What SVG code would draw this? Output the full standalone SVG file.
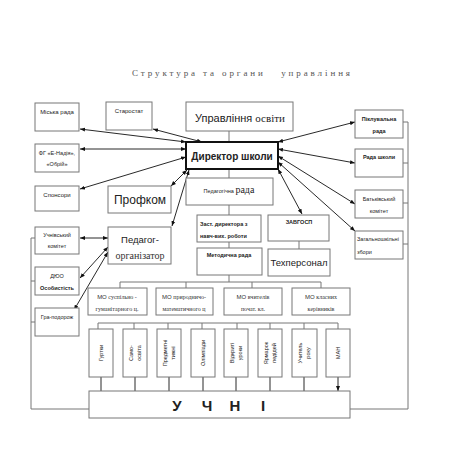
<svg xmlns="http://www.w3.org/2000/svg" width="453" height="453" viewBox="0 0 453 453">
<defs>
<marker id="ah" viewBox="0 0 10 10" refX="10" refY="5" markerWidth="5" markerHeight="5" orient="auto-start-reverse" markerUnits="userSpaceOnUse"><path d="M0,1 L10,5 L0,9 z" fill="#111"/></marker>
<style>
.b{fill:#fff;stroke:#777;stroke-width:1}
.t{font-family:"Liberation Sans",Arial,sans-serif;fill:#222;text-anchor:middle}
.s{font-family:"Liberation Serif","Times New Roman",serif;fill:#333;text-anchor:middle}
.c{fill:none;stroke:#777;stroke-width:1}
.a{fill:none;stroke:#111;stroke-width:0.9;marker-start:url(#ah);marker-end:url(#ah)}
.d{fill:none;stroke:#111;stroke-width:0.9;marker-end:url(#ah)}
</style>
</defs>
<rect width="453" height="453" fill="#fff"/>
<text x="132" y="76" font-family="Liberation Serif,serif" font-size="9" textLength="218" lengthAdjust="spacing" fill="#555" style="white-space:pre">Структура та органи   управління</text>

<g id="connectors">
<path class="c" d="M229,131V142 M229,169V178 M229,205V215 M229,242V248 M229,275V282 M120,282H321 M120,282V288 M186,282V288 M252,282V288 M321,282V288 M299,241V249"/>
<path class="c" d="M98,323H338 M98,323V329 M134,323V329 M168,323V329 M202,323V329 M237,323V329 M270,323V329 M304,323V329 M338,323V329"/>
<path class="d" d="M101,377V391 M135,377V391 M169,377V391 M203,377V391 M236,377V391 M270,377V391 M304,377V391 M338,377V391"/>
<path class="c" d="M35,238H31V409H89 M35,281H31 M35,322H31"/>
<path class="c" d="M403,122H408V409H350 M403,163H408 M403,203H408 M403,244H408"/>
<path class="a" d="M80,129L186,142"/>
<path class="a" d="M153,129L202,142"/>
<path class="a" d="M80,149H186"/>
<path class="a" d="M80,189L186,157"/>
<path class="a" d="M171,186L187,170"/>
<path class="a" d="M172,226L189,170"/>
<path class="a" d="M80,238H108"/>
<path class="a" d="M80,278L108,247"/>
<path class="a" d="M74,310L108,252"/>
<path class="a" d="M278,142L355,122"/>
<path class="a" d="M278,149L355,163"/>
<path class="a" d="M278,156L355,204"/>
<path class="a" d="M278,162L355,231"/>
<path class="a" d="M278,169L302,214"/>
</g>

<g id="miska"><rect class="b" x="35" y="103" width="44" height="28"/><text class="t" x="57" y="114" font-size="6">Міська рада</text></g>
<g id="starostat"><rect class="b" x="106" y="102" width="46" height="28"/><text class="t" x="129" y="113" font-size="6">Старостат</text></g>
<g id="fg"><rect class="b" x="35" y="144" width="44" height="28"/><text class="t" x="57" y="155" font-size="5.5">ФГ «Е-Надія»,</text><text class="t" x="57" y="166" font-size="5.5">«Обрій»</text></g>
<g id="sponsory"><rect class="b" x="35" y="186" width="44" height="25"/><text class="t" x="57" y="197" font-size="6">Спонсори</text></g>
<g id="uprav"><rect class="b" x="186" y="102" width="107" height="29"/><text class="t" x="240" y="122" font-size="11">Управління <tspan font-family="Liberation Serif,serif">освіти</tspan></text></g>
<g id="dyrektor"><rect x="186" y="142" width="92" height="27" fill="#fff" stroke="#111" stroke-width="2"/><text class="t" x="232" y="160" font-size="10" font-weight="bold" fill="#000">Директор школи</text></g>
<g id="pedrada"><rect class="b" x="186" y="178" width="87" height="27"/><text class="t" x="229" y="193" font-size="5.5">Педагогічна <tspan font-family="Liberation Serif,serif" font-size="10">рада</tspan></text></g>
<g id="profkom"><rect class="b" x="108" y="186" width="63" height="27"/><text class="t" x="140" y="204" font-size="12">Профком</text></g>
<g id="pedorg"><rect class="b" x="108" y="227" width="63" height="37"/><text class="t" x="140" y="243" font-size="9.5">Педагог-</text><text class="s" x="140" y="259" font-size="10">організатор</text></g>
<g id="zast"><rect class="b" x="197" y="215" width="64" height="27"/><text class="t" x="200" y="226" font-size="5.5" font-weight="bold" style="text-anchor:start">Заст. директора з</text><text class="t" x="200" y="238" font-size="5.5" font-weight="bold" style="text-anchor:start">навч-вих. роботи</text></g>
<g id="metod"><rect class="b" x="197" y="248" width="65" height="27"/><text class="t" x="229" y="257" font-size="5.5" font-weight="bold">Методична рада</text></g>
<g id="zavgosp"><rect class="b" x="268" y="215" width="61" height="26"/><text class="t" x="299" y="224" font-size="5.5" font-weight="bold">ЗАВГОСП</text></g>
<g id="techpers"><rect class="b" x="268" y="249" width="62" height="27"/><text class="t" x="299" y="266" font-size="9.5">Техперсонал</text></g>
<g id="uchkom"><rect class="b" x="35" y="227" width="44" height="27"/><text class="t" x="57" y="237" font-size="5.5">Учнівський</text><text class="t" x="57" y="248" font-size="5.5">комітет</text></g>
<g id="dyuo"><rect class="b" x="35" y="267" width="44" height="28"/><text class="t" x="57" y="278" font-size="5.5">ДЮО</text><text class="t" x="57" y="290" font-size="5.5" font-weight="bold">Особистість</text></g>
<g id="hra"><rect class="b" x="35" y="308" width="44" height="28"/><text class="t" x="57" y="319" font-size="5.5">Гра-подорож</text></g>
<g id="pikl"><rect class="b" x="355" y="110" width="48" height="28"/><text class="t" x="379" y="121" font-size="5.5" font-weight="bold">Піклувальна</text><text class="t" x="379" y="133" font-size="5.5" font-weight="bold">рада</text></g>
<g id="radashk"><rect class="b" x="355" y="149" width="48" height="28"/><text class="t" x="379" y="159" font-size="5.5" font-weight="bold">Рада школи</text></g>
<g id="batk"><rect class="b" x="355" y="190" width="48" height="28"/><text class="t" x="379" y="201" font-size="5.5">Батьківський</text><text class="t" x="379" y="213" font-size="5.5">комітет</text></g>
<g id="zahal"><rect class="b" x="355" y="231" width="48" height="28"/><text class="t" x="357" y="241" font-size="5.5" style="text-anchor:start">Загальношкільні</text><text class="t" x="357" y="254" font-size="5.5" style="text-anchor:start">збори</text></g>
<g id="mo1"><rect class="b" x="88" y="288" width="59" height="27"/><text class="s" x="117" y="299" font-size="6"><tspan font-family="Liberation Sans,sans-serif">МО</tspan> суспільно -</text><text class="s" x="117" y="311" font-size="6">гуманітарного ц.</text></g>
<g id="mo2"><rect class="b" x="156" y="288" width="57" height="27"/><text class="s" x="184" y="299" font-size="6"><tspan font-family="Liberation Sans,sans-serif">МО</tspan> природничо-</text><text class="s" x="184" y="311" font-size="6">математичного ц</text></g>
<g id="mo3"><rect class="b" x="224" y="288" width="58" height="27"/><text class="s" x="253" y="299" font-size="6"><tspan font-family="Liberation Sans,sans-serif">МО</tspan>  вчителів</text><text class="s" x="253" y="311" font-size="6">почат. кл.</text></g>
<g id="mo4"><rect class="b" x="292" y="288" width="58" height="27"/><text class="s" x="321" y="299" font-size="6"><tspan font-family="Liberation Sans,sans-serif">МО</tspan> класних</text><text class="s" x="321" y="311" font-size="6">керівників</text></g>
<g id="hurtky"><rect class="b" x="89" y="329" width="24" height="48"/><text class="t" transform="translate(103,353) rotate(-90)" font-size="5.5">Гуртки</text></g>
<g id="samo"><rect class="b" x="123" y="329" width="24" height="48"/><text class="t" transform="translate(133,353) rotate(-90)" font-size="5.5">Само-</text><text class="t" transform="translate(141,353) rotate(-90)" font-size="5.5">освіта</text></g>
<g id="predm"><rect class="b" x="157" y="329" width="24" height="48"/><text class="t" transform="translate(167,353) rotate(-90)" font-size="5.5">Предметні</text><text class="t" transform="translate(175,353) rotate(-90)" font-size="5.5">тижні</text></g>
<g id="olimp"><rect class="b" x="191" y="329" width="24" height="48"/><text class="t" transform="translate(205,353) rotate(-90)" font-size="5.5">Олімпіади</text></g>
<g id="vidkr"><rect class="b" x="224" y="329" width="24" height="48"/><text class="t" transform="translate(234,353) rotate(-90)" font-size="5.5">Відкриті</text><text class="t" transform="translate(242,353) rotate(-90)" font-size="5.5">уроки</text></g>
<g id="yarm"><rect class="b" x="258" y="329" width="24" height="48"/><text class="t" transform="translate(268,353) rotate(-90)" font-size="5.5">Ярмарок</text><text class="t" transform="translate(276,353) rotate(-90)" font-size="5.5">педідей</text></g>
<g id="uchyt"><rect class="b" x="292" y="329" width="25" height="48"/><text class="t" transform="translate(302,353) rotate(-90)" font-size="5.5">Учитель</text><text class="t" transform="translate(310,353) rotate(-90)" font-size="5.5">року</text></g>
<g id="man"><rect class="b" x="326" y="329" width="24" height="48"/><text class="t" transform="translate(340,353) rotate(-90)" font-size="5.5">МАН</text></g>
<g id="uchni"><rect class="b" x="89" y="391" width="261" height="27"/><text class="t" y="411" font-size="15" font-weight="bold" fill="#000"><tspan x="177">У</tspan><tspan x="207">Ч</tspan><tspan x="235">Н</tspan><tspan x="263">І</tspan></text></g>
</svg>
